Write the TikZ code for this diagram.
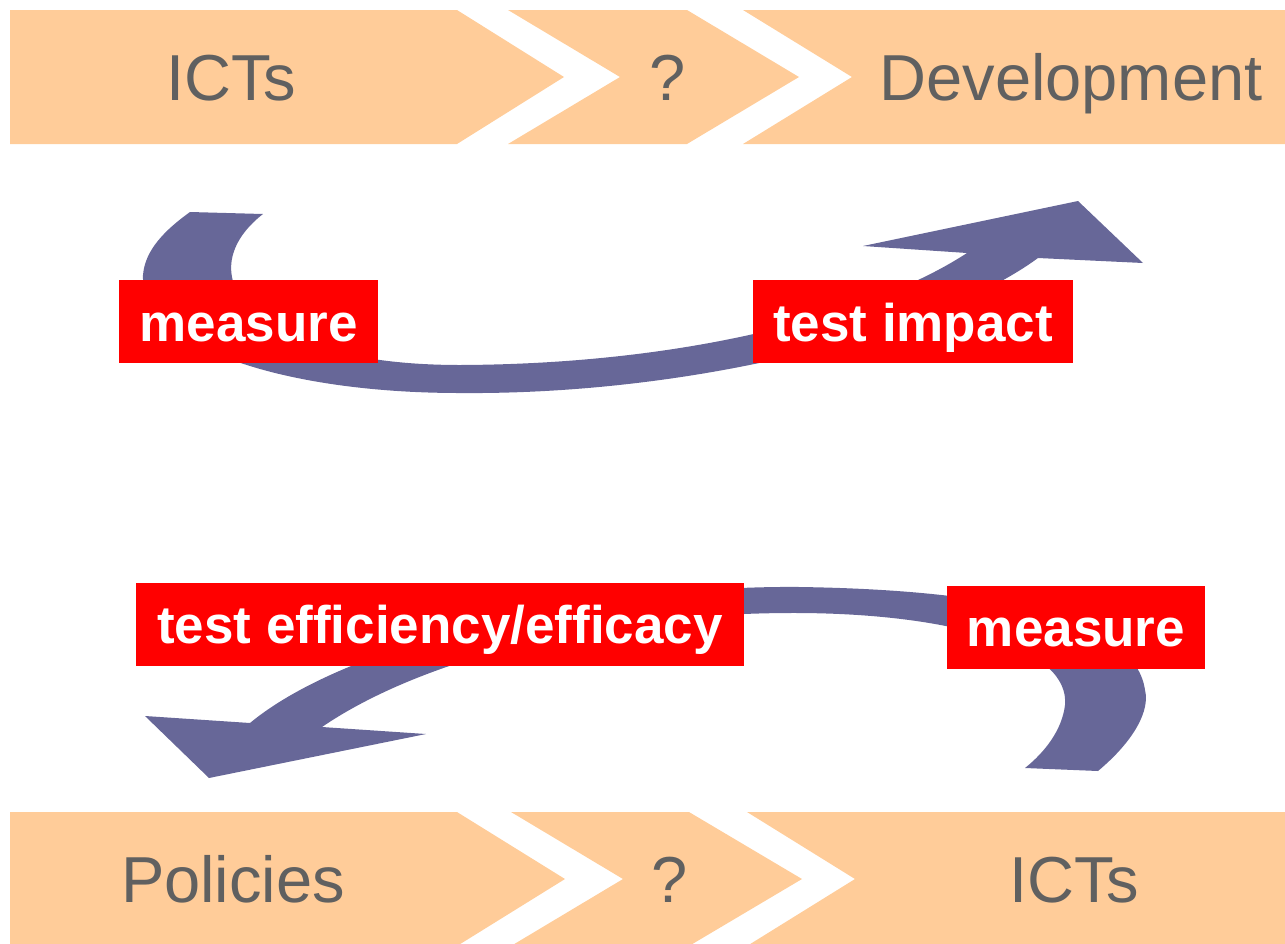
\documentclass[tikz,border=0pt]{standalone}
\usepackage{fontspec}
\setmainfont{Liberation Sans}
\usepackage{xcolor}
\usetikzlibrary{positioning}
\definecolor{peach}{HTML}{FFCC99}
\definecolor{slate}{HTML}{676798}
\definecolor{tagred}{HTML}{FF0000}
\definecolor{ink}{HTML}{606060}
\tikzstyle{chevron} = [fill=peach, draw=none]
\tikzstyle{stage} = [text=ink, font=\fontsize{32.5}{36}\selectfont, anchor=base, inner sep=0pt]
\tikzstyle{curvearrow} = [fill=slate, draw=none]
\tikzstyle{tag} = [fill=tagred, text=white, font=\fontsize{26.5}{30}\selectfont\bfseries, inner sep=0pt, text height=30.5pt, text depth=11pt]

\begin{document}
\begin{tikzpicture}[x=0.5pt, y=-0.5pt]
\useasboundingbox (0,0) rectangle (1285,943);
\clip (0,0) rectangle (1285,943);
% top chain
\fill [chevron] (10,10) -- (457,10) -- (564,77) -- (457,144) -- (10,144) -- cycle;
\fill [chevron] (508,10) -- (687,10) -- (799,77) -- (687,144) -- (508,144) -- (620,77) -- cycle;
\fill [chevron] (743,10) -- (1285,10) -- (1285,144) -- (743,144) -- (852,77) -- cycle;
\node (ictstop) [stage] at (231,100) {ICTs};
\node (qtop) [stage] at (668,100) {?};
\node (devel) [stage] at (1071,100) {Development};
% bottom chain
\fill [chevron] (10,812) -- (457,812) -- (565,879) -- (457,946) -- (10,946) -- cycle;
\fill [chevron] (511,812) -- (689,812) -- (802,879) -- (689,946) -- (511,946) -- (623,879) -- cycle;
\fill [chevron] (747,812) -- (1285,812) -- (1285,946) -- (747,946) -- (855,879) -- cycle;
\node (policies) [stage] at (233,902) {Policies};
\node (qbottom) [stage] at (670,902) {?};
\node (ictsbottom) [stage] at (1074,902) {ICTs};
% upper loop
\fill [curvearrow] (190,212) -- (263,214)
  .. controls (185,275) and (250,365) .. (460,365)
  .. controls (700,364) and (880,310) .. (967,253)
  -- (863,246) -- (1078,201) -- (1143,263) -- (1038,258)
  .. controls (940,330) and (700,395) .. (460,393)
  .. controls (280,393) and (140,345) .. (143,275)
  .. controls (145,250) and (165,230) .. (190,212) -- cycle;
% lower loop
\fill [curvearrow] (1025,768) -- (1098,771)
  .. controls (1135,740) and (1150,710) .. (1145,690)
  .. controls (1135,620) and (1000,590) .. (800,587)
  .. controls (600,585) and (350,640) .. (250,723)
  -- (145,716) -- (209,778) -- (426,734) -- (322,727)
  .. controls (420,660) and (600,612) .. (800,613)
  .. controls (960,614) and (1070,650) .. (1065,705)
  .. controls (1062,730) and (1045,752) .. (1025,768) -- cycle;
% labels
\node (measuretop) [tag, minimum width=129.5pt] at (248.5,321.5) {measure};
\node (impact) [tag, minimum width=160pt] at (913,321.5) {test impact};
\node (efficacy) [tag, minimum width=304pt] at (440,624) {test efficiency/efficacy};
\node (measurebottom) [tag, minimum width=129pt] at (1076,627) {measure};
\end{tikzpicture}
\end{document}
